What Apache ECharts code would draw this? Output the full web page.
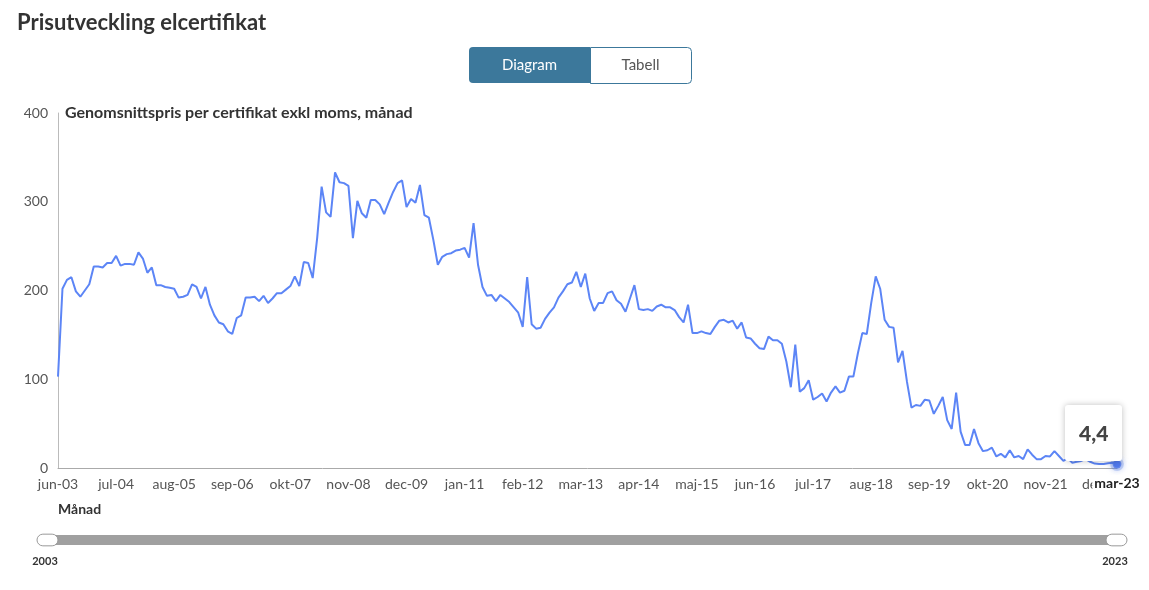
<!DOCTYPE html>
<html>
<head>
<meta charset="utf-8">
<script src="https://cdn.jsdelivr.net/npm/echarts@6/dist/echarts.min.js"></script>
<style>
  html, body { margin: 0; padding: 0; background: #fff; }
  #main { width: 1149px; height: 590px; }
</style>
</head>
<body>
<div id="main"></div>
<script>
// månadsetiketter jun-03 .. mar-23
var monthNames = ['jan','feb','mar','apr','maj','jun','jul','aug','sep','okt','nov','dec'];
var firstYear = 2003, firstMonth = 5;   // juni 2003
var lastYear = 2023, lastMonth = 2;     // mars 2023

var months = [];
for (var y = firstYear; y <= lastYear; y++) {
  for (var m = 0; m < 12; m++) {
    if (y === firstYear && m < firstMonth) continue;
    if (y === lastYear && m > lastMonth) break;
    months.push(monthNames[m] + '-' + String(y).slice(2));
  }
}

// genomsnittspris per certifikat (kr)
var prices = [
  103, 202, 212, 215, 199, 193, 200,                          // jun-dec 2003
  207, 227, 227, 226, 231, 231, 239, 228, 230, 230, 229, 243, // 2004
  236, 220, 226, 206, 206, 204, 203, 202, 192, 193, 195, 207, // 2005
  204, 191, 204, 184, 172, 164, 162, 154, 151, 169, 172, 192, // 2006
  192, 193, 188, 194, 186, 191, 197, 197, 201, 205, 216, 205, // 2007
  232, 231, 214, 259, 317, 288, 283, 333, 322, 321, 318, 259, // 2008
  301, 287, 282, 302, 302, 297, 286, 299, 311, 321, 324, 294, // 2009
  303, 299, 319, 285, 282, 257, 229, 238, 241, 242, 245, 246, // 2010
  248, 237, 276, 229, 204, 194, 195, 188, 195, 191, 187, 181, // 2011
  175, 159, 215, 162, 157, 158, 168, 175, 181, 192, 199, 207, // 2012
  209, 221, 204, 219, 191, 177, 186, 186, 197, 199, 189, 185, // 2013
  176, 191, 206, 179, 178, 179, 177, 182, 184, 181, 181, 178, // 2014
  170, 164, 184, 152, 152, 154, 152, 151, 159, 166, 167, 164, // 2015
  166, 157, 164, 147, 146, 140, 135, 134, 148, 144, 144, 140, // 2016
  120, 91, 139, 86, 90, 99, 77, 80, 84, 75, 85, 92,           // 2017
  85, 87, 103, 103, 129, 152, 151, 186, 216, 202, 167, 159,   // 2018
  158, 119, 132, 97, 68, 71, 70, 77, 76, 61, 70, 80,          // 2019
  54, 44, 85, 41, 26, 26, 44, 28, 19, 20, 23, 13,             // 2020
  16, 12, 20, 12, 13.5, 10, 21, 15, 10, 10, 13.5, 13,         // 2021
  19, 13.5, 8, 11, 6, 7, 8, 10, 7, 5, 4.5, 4.5,               // 2022
  5.3, 6, 4.4                                                 // jan-mar 2023
];

var yTicks = [0, 100, 200, 300, 400];
var lastIdx = prices.length - 1;
var lineColor = '#5479e0';
var font = 'Lato, "Open Sans", sans-serif';

var chart = echarts.init(document.getElementById('main'));
chart.setOption({
  animation: false,
  textStyle: { fontFamily: font },
  title: [
    {
      text: 'Prisutveckling elcertifikat',
      left: 12, top: 7,
      textStyle: { fontSize: 22, fontWeight: 'bold', color: '#333', fontFamily: font }
    },
    {
      text: 'Genomsnittspris per certifikat exkl moms, månad',
      left: 60, top: 100,
      textStyle: { fontSize: 16, fontWeight: 'bold', color: '#333', fontFamily: font }
    }
  ],
  grid: { left: 58, right: 32, top: 113, bottom: 122 },
  tooltip: {
    trigger: 'axis',
    alwaysShowContent: true,
    transitionDuration: 0,
    backgroundColor: '#fff',
    borderWidth: 0,
    padding: [12, 14],
    extraCssText: 'box-shadow: 0 0 6px rgba(0,0,0,0.25); border-radius: 3px;',
    textStyle: { fontSize: 21, fontWeight: 900, color: '#444', fontFamily: font },
    position: [1065, 405],
    axisPointer: {
      type: 'line',
      lineStyle: { opacity: 0 },
      label: {
        show: true,
        color: '#222',
        fontWeight: 'bold',
        fontSize: 14,
        fontFamily: font,
        backgroundColor: '#fff',
        padding: [1, 2],
        margin: 7
      }
    },
    formatter: function (params) {
      var p = params.filter(function (q) { return q.seriesIndex === 0; })[0];
      return String(p.value).replace('.', ',');
    }
  },
  xAxis: {
    type: 'category',
    data: months,
    boundaryGap: false,
    axisLine: { lineStyle: { color: '#aaa' } },
    axisTick: { show: false },
    axisLabel: { interval: 12, color: '#555', fontSize: 14, margin: 9, fontFamily: font },
    splitLine: { show: false }
  },
  yAxis: {
    type: 'value',
    min: yTicks[0],
    max: yTicks[yTicks.length - 1],
    interval: 100,
    axisLine: { show: true, lineStyle: { color: '#bbb' } },
    axisTick: { show: false },
    axisLabel: { color: '#555', fontSize: 14, margin: 10, fontFamily: font },
    splitLine: { show: false }
  },
  dataZoom: [{
    type: 'slider',
    xAxisIndex: 0,
    start: 0, end: 100,
    left: 45, right: 33, top: 535, height: 10,
    showDataShadow: false,
    showDetail: false,
    brushSelect: false,
    moveHandleSize: 0,
    backgroundColor: '#a0a0a0',
    fillerColor: '#a0a0a0',
    borderColor: 'transparent',
    handleIcon: 'path://M5,0H13A5,5 0 0 1 13,10H5A5,5 0 0 1 5,0Z',
    handleSize: '210%',
    handleStyle: { color: '#fff', borderColor: '#999', borderWidth: 1 }
  }],
  graphic: [
    { type: 'rect', left: 469, top: 47, shape: { width: 121, height: 36, r: [4, 0, 0, 4] },
      style: { fill: '#3c789b' } },
    { type: 'rect', left: 590, top: 47, shape: { width: 101, height: 36, r: [0, 4, 4, 0] },
      style: { fill: '#fff', stroke: '#3c789b', lineWidth: 1 } },
    { type: 'text', x: 529.5, y: 65, style: { text: 'Diagram', fill: '#fff', fontSize: 15,
      fontFamily: font, align: 'center', verticalAlign: 'middle' } },
    { type: 'text', x: 640.5, y: 65, style: { text: 'Tabell', fill: '#555', fontSize: 15,
      fontFamily: font, align: 'center', verticalAlign: 'middle' } },
    { type: 'text', x: 58, y: 509, style: { text: 'Månad', fill: '#333', fontSize: 14,
      fontWeight: 'bold', fontFamily: font, verticalAlign: 'middle' } },
    { type: 'text', x: 45, y: 561, style: { text: String(firstYear), fill: '#333',
      fontSize: 11, fontWeight: 'bold', fontFamily: font, align: 'center', verticalAlign: 'middle' } },
    { type: 'text', x: 1115, y: 561, style: { text: String(lastYear), fill: '#333',
      fontSize: 11, fontWeight: 'bold', fontFamily: font, align: 'center', verticalAlign: 'middle' } }
  ],
  series: [
    {
      name: 'Pris',
      type: 'line',
      data: prices,
      showSymbol: false,
      symbol: 'circle',
      symbolSize: 6,
      lineStyle: { color: lineColor, width: 2 },
      itemStyle: { color: lineColor }
    },
    {
      name: 'Senaste',
      type: 'scatter',
      data: [[months[lastIdx], prices[lastIdx]]],
      symbolSize: 8,
      itemStyle: {
        color: '#4a6fdc',
        borderColor: 'rgba(84,121,224,0.35)',
        borderWidth: 5,
        shadowBlur: 6,
        shadowColor: 'rgba(84,121,224,0.6)'
      },
      silent: true,
      z: 5
    }
  ]
});

chart.dispatchAction({ type: 'showTip', seriesIndex: 0, dataIndex: lastIdx });
</script>
</body>
</html>
